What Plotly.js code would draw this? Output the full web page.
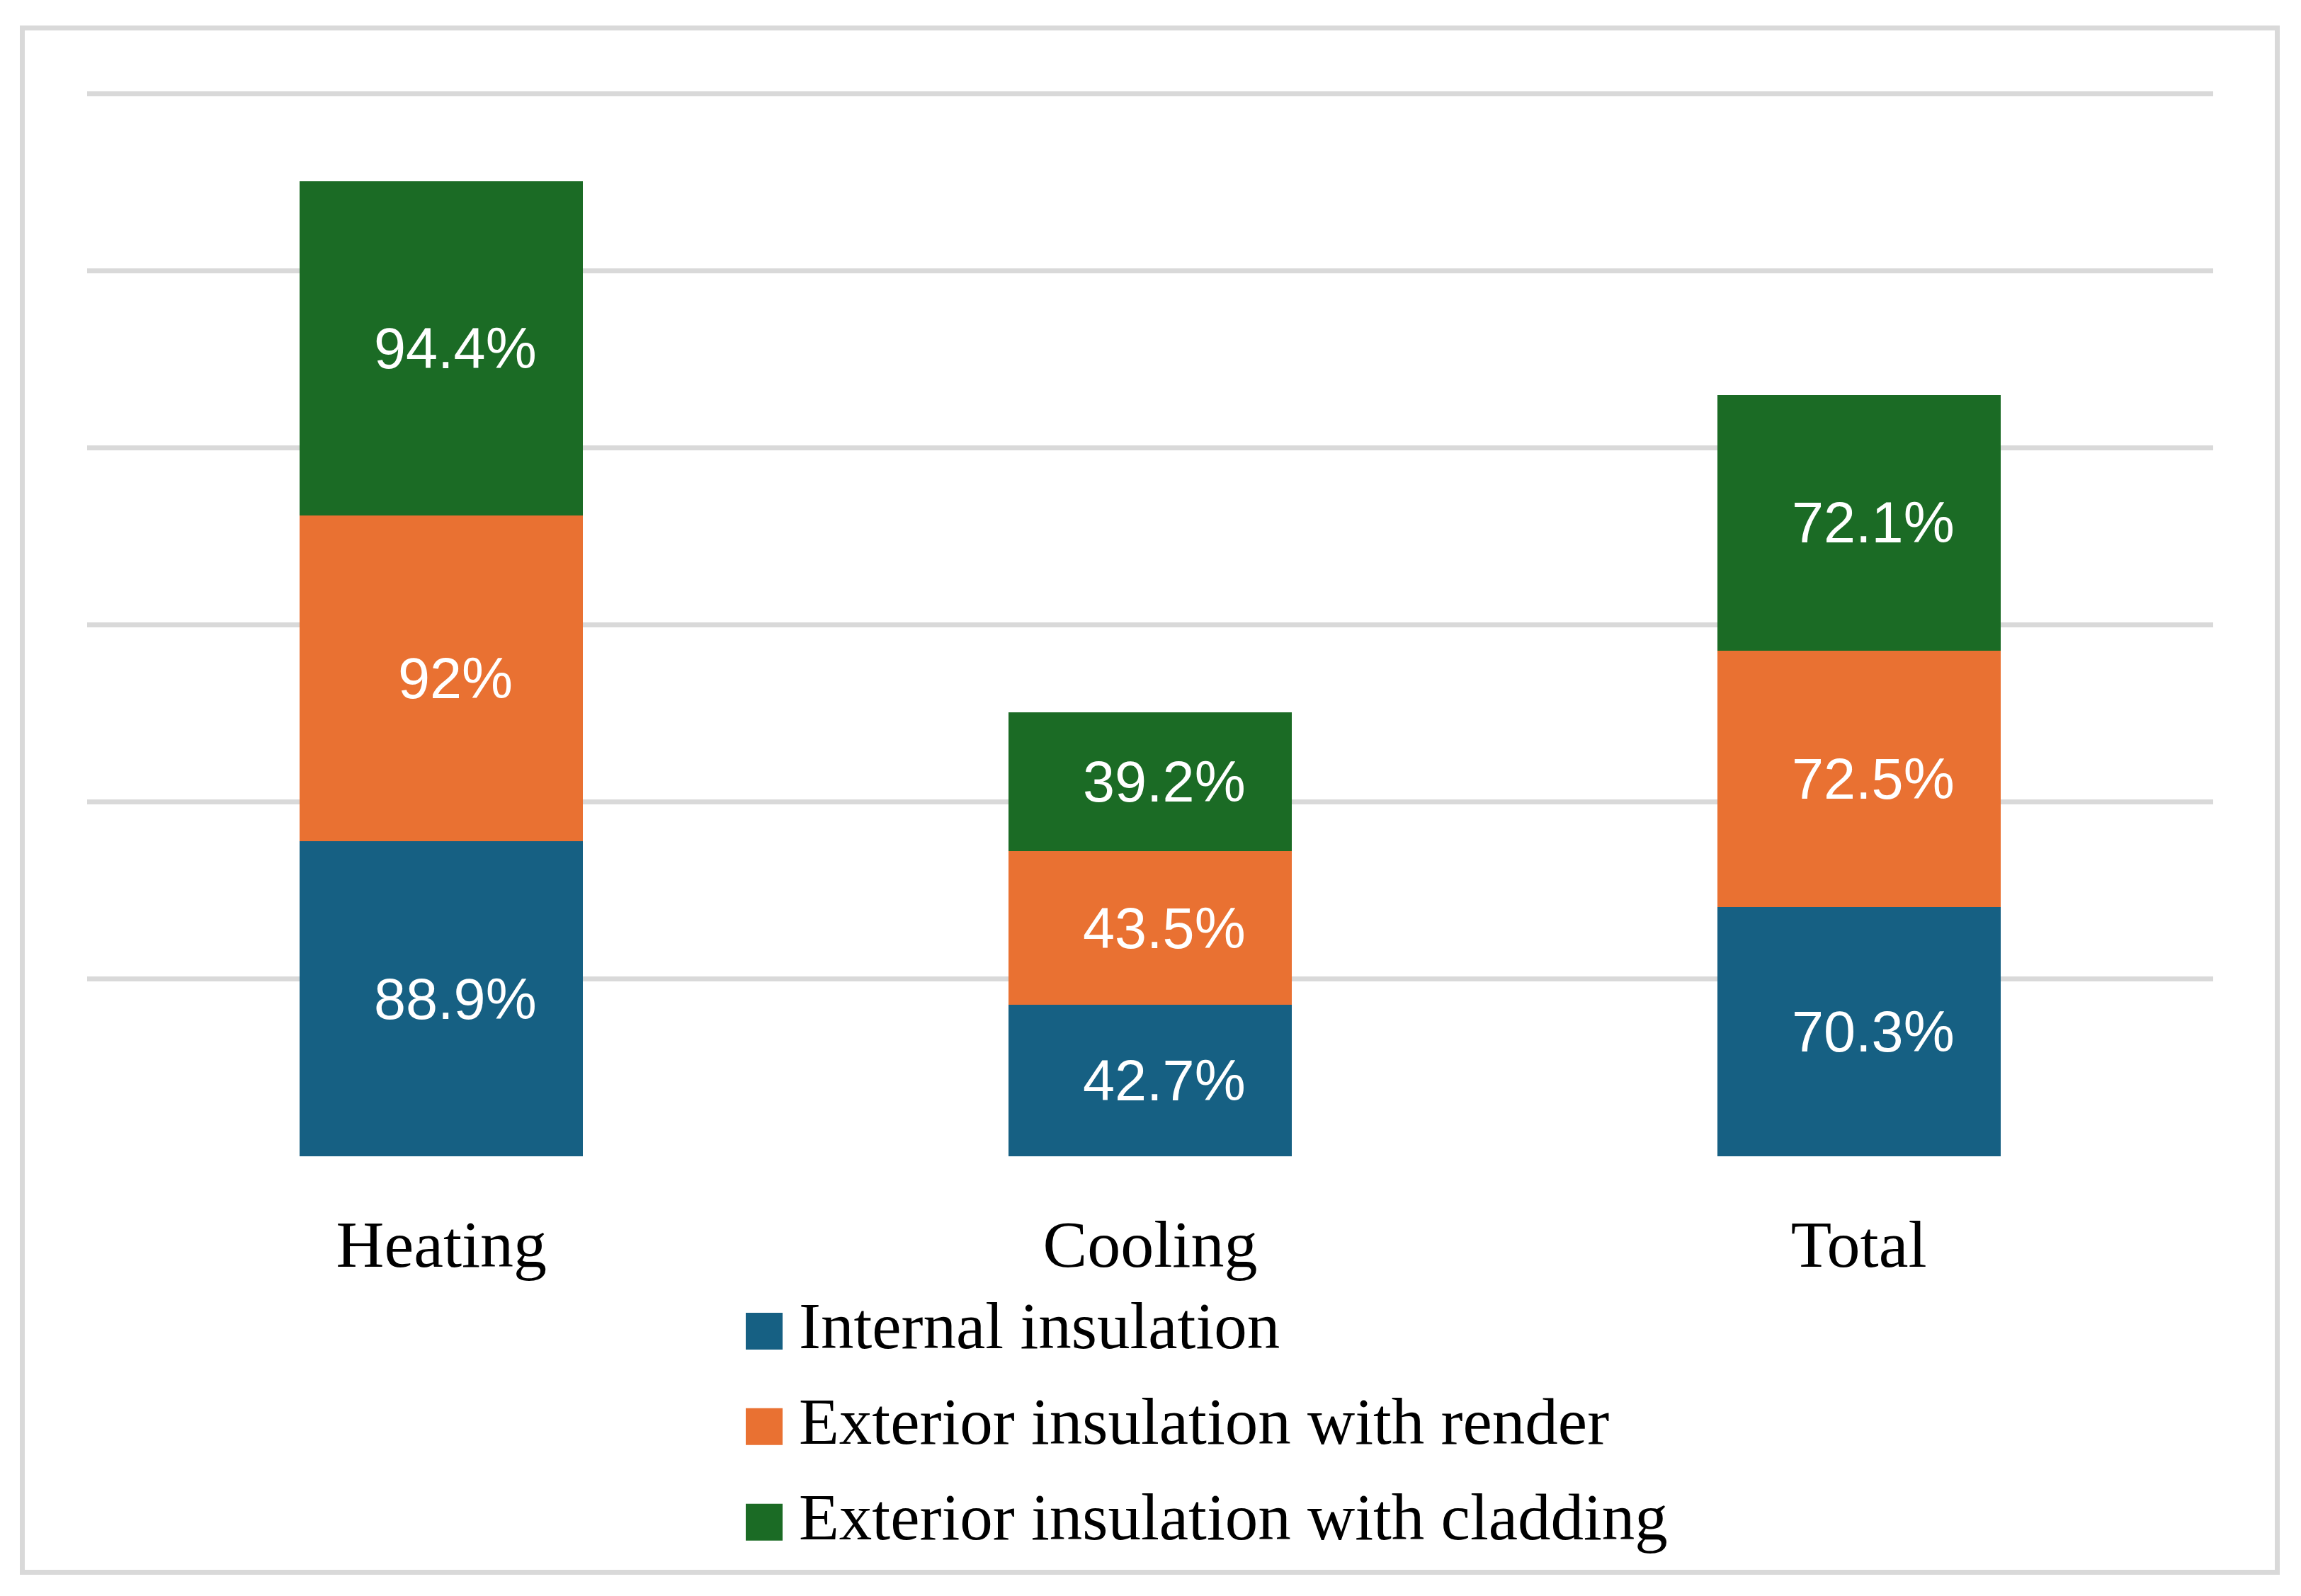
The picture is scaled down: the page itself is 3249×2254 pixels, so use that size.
<!DOCTYPE html>
<html>
<head>
<meta charset="utf-8">
<script src="https://cdn.plot.ly/plotly-3.0.1.min.js"></script>
<style>
  html, body { margin: 0; padding: 0; background: #ffffff; overflow: hidden; }
  #chart { width: 3249px; height: 2254px; }
</style>
</head>
<body>
<div id="chart"></div>
<script>
// ---- data ----
const categories = ['Heating', 'Cooling', 'Total'];
const seriesNames = ['Internal insulation', 'Exterior insulation with render', 'Exterior insulation with cladding'];
const internalInsulation = [88.9, 42.7, 70.3];
const exteriorRender = [92, 43.5, 72.5];
const exteriorCladding = [94.4, 39.2, 72.1];
const yTickValues = [0, 50, 100, 150, 200, 250, 300];

// ---- styling ----
const seriesColors = ['#166083', '#E97132', '#1B6B25'];
const W = 3249, H = 2254;
const plotL = 123, plotR = 3125, plotT = 127, plotB = 1633;
const yMax = 301;
const pxX = px => (px - plotL) / (plotR - plotL);
const pxY = py => (plotB - py) / (plotB - plotT);
const serif = '"Liberation Serif", "DejaVu Serif", serif';
const sans = '"Liberation Sans", Arial, sans-serif';

const seriesValues = [internalInsulation, exteriorRender, exteriorCladding];
const traces = seriesValues.map((vals, i) => ({
  type: 'bar',
  name: seriesNames[i],
  legendgroup: 'g' + i,
  x: categories,
  y: vals,
  marker: { color: seriesColors[i], line: { width: 0 } },
  hoverinfo: 'skip'
}));

// value labels placed at the middle of each stacked segment (data coordinates)
const annotations = [];
categories.forEach((cat, ci) => {
  let base = 0;
  seriesValues.forEach(vals => {
    const v = vals[ci];
    annotations.push({
      x: cat, y: base + v / 2, xref: 'x', yref: 'y',
      text: v + '%',
      showarrow: false,
      xanchor: 'center', yanchor: 'middle',
      xshift: 20,
      font: { family: sans, size: 81, color: '#ffffff' }
    });
    base += v;
  });
});

const layout = {
  width: W,
  height: H,
  margin: { l: plotL, r: W - plotR, t: plotT, b: H - plotB, autoexpand: false },
  paper_bgcolor: '#ffffff',
  plot_bgcolor: '#ffffff',
  barmode: 'stack',
  bargap: 0.6,
  showlegend: true,
  legend: {
    orientation: 'v',
    traceorder: 'grouped',
    tracegroupgap: 11,
    itemwidth: 88,
    x: pxX(1030),
    xanchor: 'left',
    y: pxY(1801),
    yanchor: 'top',
    bgcolor: 'rgba(0,0,0,0)',
    borderwidth: 0,
    font: { family: serif, size: 93, color: '#000000' }
  },
  xaxis: {
    type: 'category',
    showgrid: false,
    zeroline: false,
    showline: false,
    ticks: '',
    ticklabelstandoff: 61,
    tickfont: { family: serif, size: 94, color: '#000000' }
  },
  yaxis: {
    range: [0, yMax],
    tickmode: 'array',
    tickvals: yTickValues,
    showticklabels: false,
    ticks: '',
    showgrid: true,
    gridcolor: '#D9D9D9',
    gridwidth: 7,
    zeroline: false,
    showline: false
  },
  annotations: annotations,
  shapes: [{
    type: 'rect',
    xref: 'paper', yref: 'paper',
    x0: pxX(31.5), x1: pxX(3215.5),
    y0: pxY(2220.5), y1: pxY(39.5),
    line: { color: '#D9D9D9', width: 7 },
    fillcolor: 'rgba(0,0,0,0)',
    layer: 'below'
  }]
};

const gd = document.getElementById('chart');

function enlargeLegendSwatches() {
  gd.querySelectorAll('.legend .legendpoints path').forEach(p => {
    p.setAttribute('d', 'M26,38H-26V-14H26Z');
  });
}

Plotly.newPlot(gd, traces, layout, { staticPlot: true, displayModeBar: false }).then(() => {
  enlargeLegendSwatches();
  gd.on && gd.on('plotly_afterplot', enlargeLegendSwatches);
});
</script>
</body>
</html>
